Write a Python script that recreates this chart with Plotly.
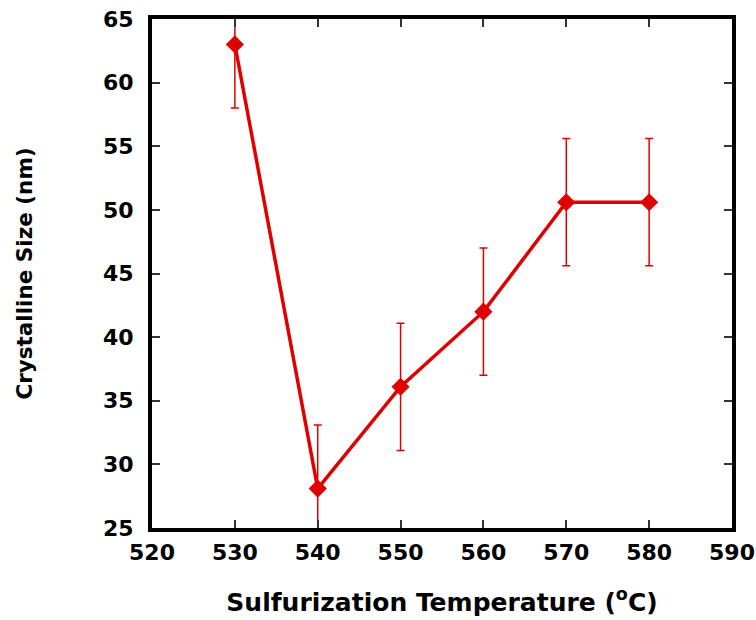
import plotly.graph_objects as go

temps = [530, 540, 550, 560, 570, 580]
sizes = [63.0, 28.1, 36.1, 42.0, 50.6, 50.6]
err_up = [5, 5, 5, 5, 5, 5]
err_down = [5, 5, 5, 5, 5, 5]

red = "#e00000"
font_fam = "DejaVu Sans, Arial, sans-serif"

fig = go.Figure()
fig.add_trace(go.Scatter(
    x=temps, y=sizes, mode="lines+markers",
    line=dict(color=red, width=3.5),
    marker=dict(symbol="diamond", size=14, color=red),
    error_y=dict(type="data", array=err_up, arrayminus=err_down,
                 color=red, thickness=1.5, width=4),
    showlegend=False,
))

fig.update_layout(
    width=756, height=620,
    margin=dict(l=152, r=24, t=19, b=92),
    paper_bgcolor="white", plot_bgcolor="white",
    font=dict(family=font_fam, size=20, color="black"),
)
fig.update_xaxes(
    range=[520, 590], tickvals=[520, 530, 540, 550, 560, 570, 580, 590],
    showline=True, linecolor="black", linewidth=4, mirror="ticks",
    ticks="inside", ticklen=8, tickcolor="#333", tickwidth=1.5,
    showgrid=False, zeroline=False, ticklabelstandoff=2, automargin=False,
    ticklabeloverflow="allow",
    tickfont=dict(family=font_fam, size=22, color="black", weight="bold"),
    title=dict(text="<b>Sulfurization Temperature (<sup>o</sup>C)</b>",
               font=dict(family=font_fam, size=25), standoff=30),
)
fig.update_yaxes(
    range=[25, 65], tickvals=[25, 30, 35, 40, 45, 50, 55, 60, 65],
    showline=True, linecolor="black", linewidth=4, mirror="ticks",
    ticks="inside", ticklen=8, tickcolor="#333", tickwidth=1.5,
    showgrid=False, zeroline=False, ticklabelstandoff=10, automargin=False,
    ticklabeloverflow="allow",
    tickfont=dict(family=font_fam, size=22, color="black", weight="bold"),
    title=dict(text="<b>Crystalline Size (nm)</b>",
               font=dict(family=font_fam, size=21.5), standoff=65),
)

fig.write_html("out.html")
